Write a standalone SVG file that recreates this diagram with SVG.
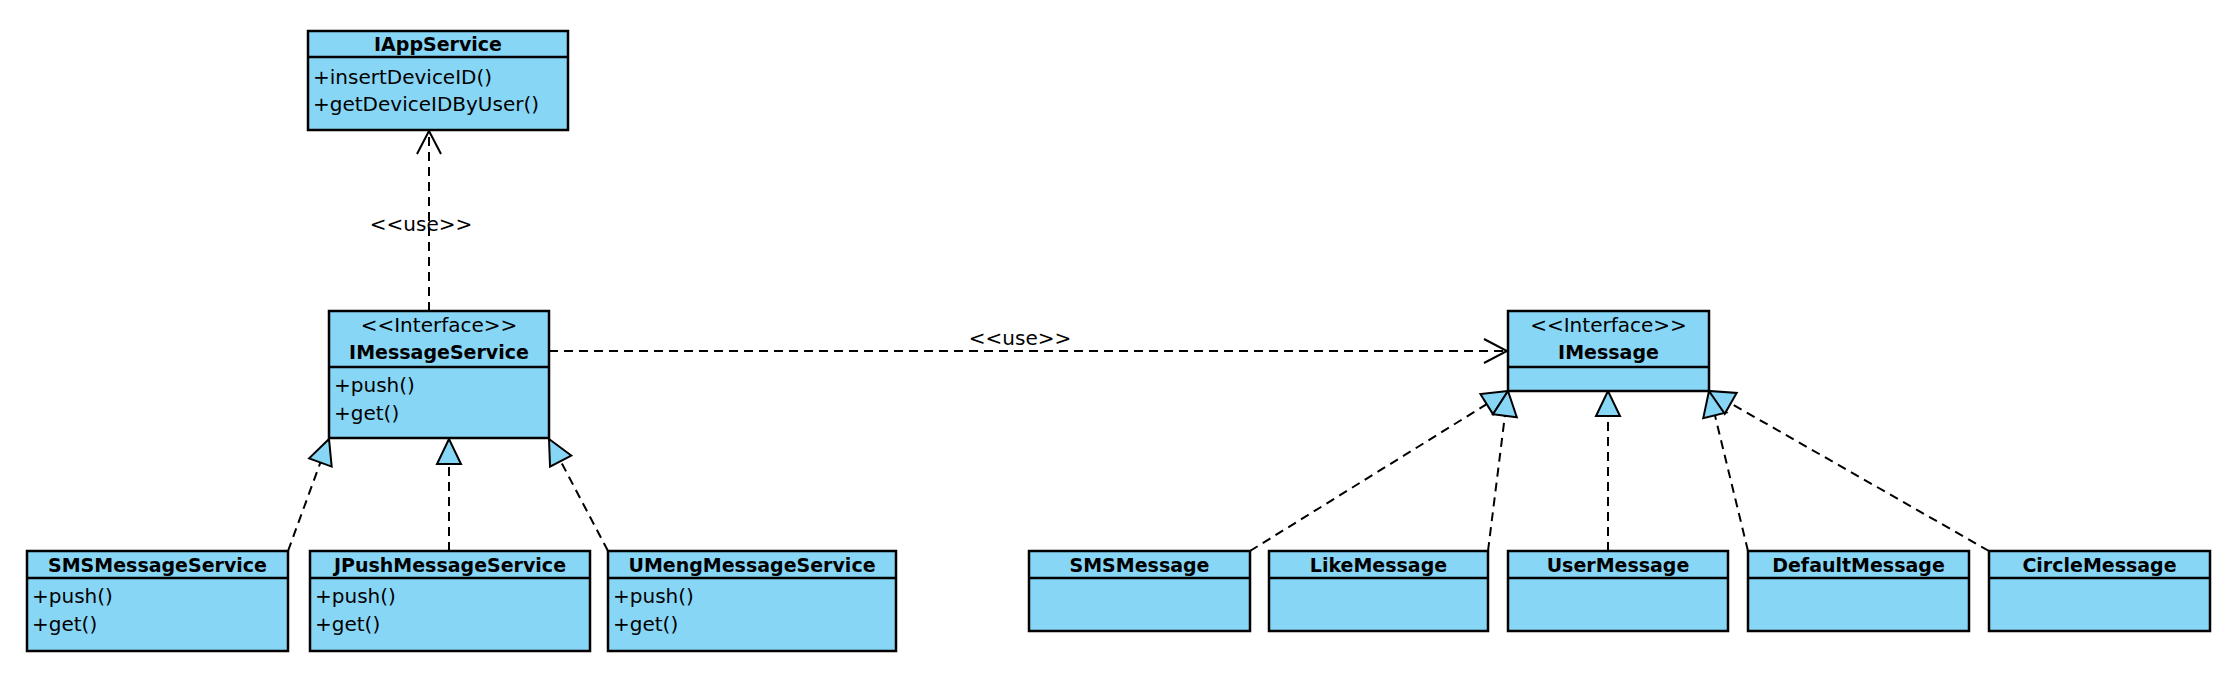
<svg xmlns="http://www.w3.org/2000/svg" width="2240" height="674" viewBox="0 0 2240 674">
<style>
.box{fill:#88d6f6;stroke:#000;stroke-width:2.5}
.div{stroke:#000;stroke-width:2.5}
.hd{font-family:"DejaVu Sans",sans-serif;font-weight:bold;font-size:19px;text-anchor:middle;fill:#000}
.st{font-family:"DejaVu Sans",sans-serif;font-size:20px;text-anchor:middle;fill:#000}
.m{font-family:"DejaVu Sans",sans-serif;font-size:20px;fill:#000}
.lbl{font-family:"DejaVu Sans",sans-serif;font-size:20px;text-anchor:middle;fill:#000}
.dash{fill:none;stroke:#000;stroke-width:2;stroke-dasharray:9 6}
</style>
<defs>
<marker id="open" viewBox="-26 -14 30 28" markerWidth="30" markerHeight="28" refX="0" refY="0" orient="auto" markerUnits="userSpaceOnUse">
<path d="M-23,-12 L0,0 L-23,12" fill="none" stroke="#000" stroke-width="2"/>
</marker>
<marker id="tri" viewBox="-28 -15 32 30" markerWidth="32" markerHeight="30" refX="0" refY="0" orient="auto" markerUnits="userSpaceOnUse">
<path d="M0,0 L-25,-12 L-25,12 Z" fill="#88d6f6" stroke="#000" stroke-width="2" stroke-linejoin="miter"/>
</marker>
</defs>
<rect width="2240" height="674" fill="#fff"/>

<g id="connectors">
<path class="dash" d="M429,311 L429,131" marker-end="url(#open)"/>
<text class="lbl" x="421" y="231">&lt;&lt;use&gt;&gt;</text>
<path class="dash" d="M549,351 L1507,351" marker-end="url(#open)"/>
<text class="lbl" x="1020" y="345">&lt;&lt;use&gt;&gt;</text>
<path class="dash" d="M288,551 L329,439" marker-end="url(#tri)"/>
<path class="dash" d="M449,551 L449,439" marker-end="url(#tri)"/>
<path class="dash" d="M608,551 L549,439" marker-end="url(#tri)"/>
<path class="dash" d="M1250,551 L1508,391" marker-end="url(#tri)"/>
<path class="dash" d="M1488,551 L1508,391" marker-end="url(#tri)"/>
<path class="dash" d="M1608,551 L1608,391" marker-end="url(#tri)"/>
<path class="dash" d="M1748,551 L1709,391" marker-end="url(#tri)"/>
<path class="dash" d="M1989,551 L1709,391" marker-end="url(#tri)"/>
</g>

<g id="IAppService">
<rect class="box" x="308" y="31" width="260" height="99"/>
<line class="div" x1="308" y1="57" x2="568" y2="57"/>
<text class="hd" x="438" y="51">IAppService</text>
<text class="m" x="313" y="84">+insertDeviceID()</text>
<text class="m" x="313" y="111">+getDeviceIDByUser()</text>
</g>

<g id="IMessageService">
<rect class="box" x="329" y="311" width="220" height="127"/>
<line class="div" x1="329" y1="367" x2="549" y2="367"/>
<text class="st" x="439" y="332">&lt;&lt;Interface&gt;&gt;</text>
<text class="hd" x="439" y="359">IMessageService</text>
<text class="m" x="334" y="392">+push()</text>
<text class="m" x="334" y="420">+get()</text>
</g>

<g id="SMSMessageService">
<rect class="box" x="27" y="551" width="261" height="100"/>
<line class="div" x1="27" y1="578" x2="288" y2="578"/>
<text class="hd" x="157.5" y="572">SMSMessageService</text>
<text class="m" x="32" y="603">+push()</text>
<text class="m" x="32" y="631">+get()</text>
</g>

<g id="JPushMessageService">
<rect class="box" x="310" y="551" width="280" height="100"/>
<line class="div" x1="310" y1="578" x2="590" y2="578"/>
<text class="hd" x="450" y="572">JPushMessageService</text>
<text class="m" x="315" y="603">+push()</text>
<text class="m" x="315" y="631">+get()</text>
</g>

<g id="UMengMessageService">
<rect class="box" x="608" y="551" width="288" height="100"/>
<line class="div" x1="608" y1="578" x2="896" y2="578"/>
<text class="hd" x="752" y="572">UMengMessageService</text>
<text class="m" x="613" y="603">+push()</text>
<text class="m" x="613" y="631">+get()</text>
</g>

<g id="IMessage">
<rect class="box" x="1508" y="311" width="201" height="80"/>
<line class="div" x1="1508" y1="367" x2="1709" y2="367"/>
<text class="st" x="1608.5" y="332">&lt;&lt;Interface&gt;&gt;</text>
<text class="hd" x="1608.5" y="359">IMessage</text>
</g>

<g id="SMSMessage">
<rect class="box" x="1029" y="551" width="221" height="80"/>
<line class="div" x1="1029" y1="578" x2="1250" y2="578"/>
<text class="hd" x="1139.5" y="572">SMSMessage</text>
</g>

<g id="LikeMessage">
<rect class="box" x="1269" y="551" width="219" height="80"/>
<line class="div" x1="1269" y1="578" x2="1488" y2="578"/>
<text class="hd" x="1378.5" y="572">LikeMessage</text>
</g>

<g id="UserMessage">
<rect class="box" x="1508" y="551" width="220" height="80"/>
<line class="div" x1="1508" y1="578" x2="1728" y2="578"/>
<text class="hd" x="1618" y="572">UserMessage</text>
</g>

<g id="DefaultMessage">
<rect class="box" x="1748" y="551" width="221" height="80"/>
<line class="div" x1="1748" y1="578" x2="1969" y2="578"/>
<text class="hd" x="1858.5" y="572">DefaultMessage</text>
</g>

<g id="CircleMessage">
<rect class="box" x="1989" y="551" width="221" height="80"/>
<line class="div" x1="1989" y1="578" x2="2210" y2="578"/>
<text class="hd" x="2099.5" y="572">CircleMessage</text>
</g>
</svg>
